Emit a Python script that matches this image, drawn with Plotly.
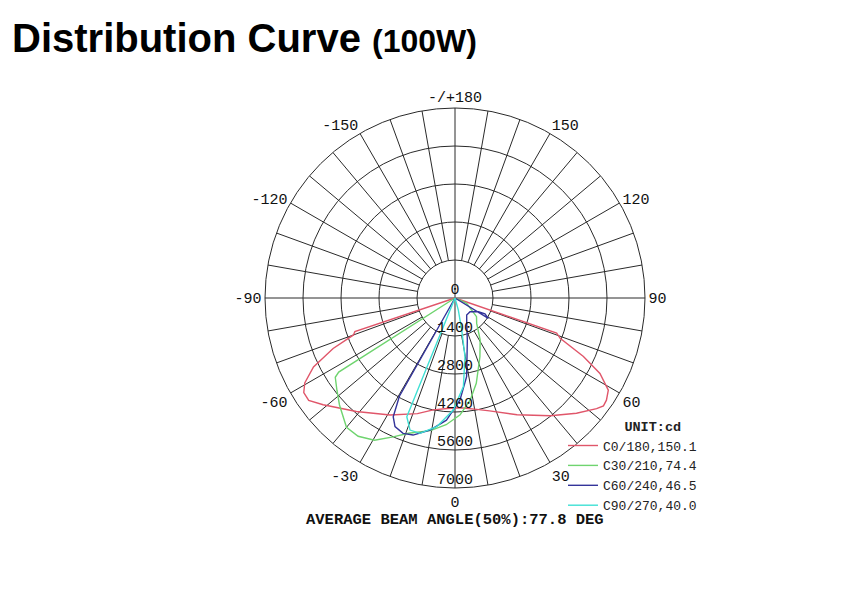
import plotly.graph_objects as go

W, H = 859, 593

# ---------------- data ----------------
series_names = ["C0/180,150.1", "C30/210,74.4", "C60/240,46.5", "C90/270,40.0"]
series_colors = ["#e0566a", "#6fd46f", "#34349a", "#3fe0d4"]

c0_theta = [-90, -71.5, -70, -67.5, -64, -60.5, -58, -55, -51, -41, -29, -18, -11, -4, 3,
            11, 17, 28, 39, 46.5, 52, 54, 56, 59, 62.5, 65.5, 69, 71, 90]
c0_cd = [0, 3890, 3980, 4860, 5800, 6360, 6570, 6580, 6250, 5540, 4930, 4480, 4200, 4080, 4050,
         4180, 4350, 4870, 5580, 6170, 6620, 6760, 6730, 6590, 6020, 5200, 4150, 3960, 0]

c30_theta = [-90, -57.5, -56.5, -52, -47.2, -40, -35, -29.5, -24, -19, -10.5, -4, 2.5, 8.5,
             14, 23, 31, 40.5, 49, 65.5, 90]
c30_cd = [0, 5080, 5290, 5520, 5800, 6220, 6220, 6020, 5600, 5270, 4970, 4680, 4310, 3800,
          3240, 2350, 1800, 1230, 1050, 470, 0]

c60_theta = [-90, -29.5, -27.5, -25, -21, -17, -10.7, -4, 2.8, 8.4, 16.4, 24.8, 34.5, 47.6,
             59.5, 62, 58.6, 90]
c60_cd = [0, 4160, 4930, 5230, 5340, 5280, 4950, 4510, 3760, 2930, 1610, 1030, 760, 750,
          1000, 1250, 1440, 0]

c90_theta = [-90, -22.1, -18.8, -14.5, -8.1, -0.9, 5.4, 9.7, 11.8, 15.5, 90]
c90_cd = [0, 4720, 5140, 5150, 4790, 4130, 3280, 2190, 1210, 460, 0]

series_theta = [c0_theta, c30_theta, c60_theta, c90_theta]
series_r = [c0_cd, c30_cd, c60_cd, c90_cd]

r_max = 7000
ring_values = [1400, 2800, 4200, 5600]
radial_label_values = [0, 1400, 2800, 4200, 5600, 7000]
radial_label_text = ["0", "1400", "2800", "4200", "5600", "7000"]
angle_tickvals = [0, 30, 60, 90, 120, 150, 180, 210, 240, 270, 300, 330]
angle_ticktext = ["0", "30", "60", "90", "120", "150", "-/+180", "-150", "-120", "-90", "-60", "-30"]
spoke_step = 10
inner_ring = 1400

title_main = "Distribution Curve"
title_sub = "(100W)"
unit_text = "UNIT:cd"
beam_text = "AVERAGE BEAM ANGLE(50%):77.8 DEG"

# ---------------- figure ----------------
fig = go.Figure()

# spokes (grid)
sp_t, sp_r = [], []
for a in range(0, 360, spoke_step):
    start = 0 if a % 90 == 0 else inner_ring
    sp_t += [a, a, None]
    sp_r += [start, r_max, None]
fig.add_trace(go.Scatterpolar(theta=sp_t, r=sp_r, mode="lines",
                              line=dict(color="#2a2a2a", width=1),
                              hoverinfo="skip", showlegend=False))

for name, col, th, rr in zip(series_names, series_colors, series_theta, series_r):
    fig.add_trace(go.Scatterpolar(theta=th, r=rr, mode="lines", name=name,
                                  line=dict(color=col, width=1.4)))

# radial value labels
fig.add_trace(go.Scatterpolar(theta=[0] * len(radial_label_values), r=radial_label_values,
                              mode="text", text=radial_label_text, textposition="top center",
                              textfont=dict(family="Liberation Mono", size=15, color="#111"),
                              hoverinfo="skip", showlegend=False))

mono = "Liberation Mono"
fig.update_layout(
    width=W, height=H,
    margin=dict(l=0, r=0, t=0, b=0),
    paper_bgcolor="white",
    polar=dict(
        domain=dict(x=[265 / W, 645 / W], y=[(H - 488) / H, (H - 108) / H]),
        bgcolor="white",
        angularaxis=dict(rotation=270, direction="counterclockwise",
                         tickmode="array", tickvals=angle_tickvals, ticktext=angle_ticktext,
                         showgrid=False, showline=True, linecolor="#2a2a2a", linewidth=1,
                         ticks="", tickfont=dict(family=mono, size=15, color="#111")),
        radialaxis=dict(range=[0, r_max], tickvals=ring_values, showticklabels=False,
                        ticks="", showline=False, gridcolor="#2a2a2a", gridwidth=1),
    ),
    legend=dict(x=563 / W, y=1 - 413 / H, xanchor="left", yanchor="top",
                bgcolor="rgba(0,0,0,0)",
                font=dict(family=mono, size=13, color="#222"),
                title=dict(text="&nbsp;" * 5 + "<b>" + unit_text + "</b>", side="top center",
                           font=dict(family=mono, size=13.5, color="#222")),
                itemwidth=30, tracegroupgap=0),
    annotations=[
        dict(text="<b>" + title_main + "</b> <b><span style='font-size:32px'>" + title_sub + "</span></b>",
             x=10 / W, y=1 - 38 / H, xref="paper", yref="paper", xanchor="left", yanchor="middle",
             showarrow=False, font=dict(family="Liberation Sans", size=40, color="#000")),
        dict(text="<b>" + beam_text + "</b>", x=455 / W, y=1 - 520 / H, xref="paper", yref="paper",
             xanchor="center", yanchor="middle", showarrow=False,
             font=dict(family=mono, size=15.5, color="#111")),
    ],
)

fig.write_html("out.html")
